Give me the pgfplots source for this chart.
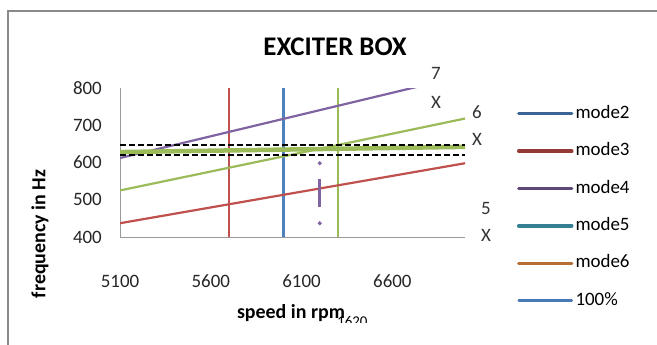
\documentclass[border=0pt]{standalone}
\usepackage{fontspec}
\setmainfont{Carlito}
\usepackage{pgfplots}
\pgfplotsset{compat=1.18}
\definecolor{cred}{HTML}{C0504D}
\definecolor{cgreen}{HTML}{9BBB59}
\definecolor{cpurple}{HTML}{8064A2}
\definecolor{cblue}{HTML}{4F81BD}
\definecolor{lmode2}{HTML}{3A6496}
\definecolor{lmode3}{HTML}{933936}
\definecolor{lmode4}{HTML}{5E4878}
\definecolor{lmode5}{HTML}{347F93}
\definecolor{lmode6}{HTML}{B86D32}
\definecolor{l100}{HTML}{4A7AB5}
\definecolor{framegray}{HTML}{8A8A8A}
\definecolor{axgray}{HTML}{9A9A9A}
\begin{document}
\begin{tikzpicture}[x=1bp,y=1bp]
\useasboundingbox (0,0) rectangle (657,344);
\fill[white] (0,0) rectangle (657,344);
\draw[line width=2bp, framegray] (8,-5) -- (8,333) -- (670,333);
\node[font=\fontsize{27}{27}\selectfont\bfseries, inner sep=0pt] at (335,297) {EXCITER BOX};
\node[font=\fontsize{20}{20}\selectfont\bfseries, rotate=90, inner sep=0pt] at (40,110) {frequency in Hz};
\node[font=\fontsize{20}{20}\selectfont\bfseries, inner sep=0pt] at (291,31) {speed in rpm};
\begin{scope}
\clip (330,22) rectangle (380,40);
\node[font=\fontsize{15}{15}\selectfont, anchor=north west, inner sep=0pt] at (337,28) {1620};
\end{scope}
\begin{scope}[font=\fontsize{19}{19}\selectfont, text=black!80]
\node at (436,271) {7};
\node at (436,242) {X};
\node at (477,232) {6};
\node at (477,205) {X};
\node at (486,136) {5};
\node at (486,109) {X};
\end{scope}
\begin{axis}[
  at={(120bp,107bp)}, anchor=south west,
  scale only axis, width=345bp, height=149bp,
  xmin=5100, xmax=7000, ymin=400, ymax=800,
  xtick={5100,5600,6100,6600}, ytick={400,500,600,700,800},
  /pgf/number format/1000 sep={},
  /pgf/number format/assume math mode=true,
  separate axis lines,
  axis x line*=bottom, axis y line*=left,
  x axis line style={-, draw=axgray, line width=1bp},
  y axis line style={-, draw=axgray, line width=1bp},
  major tick length=0pt,
  tick label style={font=\fontsize{19}{19}\selectfont, text=black!85},
  yticklabel style={inner sep=0pt, anchor=east, xshift=-18bp},
  xticklabel style={inner sep=0pt, anchor=north, yshift=-38bp},
  clip=true,
  legend cell align=left,
  legend style={draw=none, fill=none, at={(1.1507,0.2)}, anchor=west,
    inner sep=0pt, outer sep=0pt, row sep=22.4bp, column sep=2bp,
    font=\fontsize{19}{19}\selectfont,
    nodes={inner sep=0pt, text height=12bp, text depth=3bp}},
  legend image code/.code={\draw[#1] (0bp,0bp) -- (53bp,0bp);},
]
\addlegendimage{lmode2, line width=3.5bp, line cap=round}
\addlegendentry{mode2}
\addlegendimage{lmode3, line width=3.5bp, line cap=round}
\addlegendentry{mode3}
\addlegendimage{lmode4, line width=3.5bp, line cap=round}
\addlegendentry{mode4}
\addlegendimage{lmode5, line width=3.5bp, line cap=round}
\addlegendentry{mode5}
\addlegendimage{lmode6, line width=3.5bp, line cap=round}
\addlegendentry{mode6}
\addlegendimage{l100, line width=2.5bp, line cap=round}
\addlegendentry{100\%}
% vertical speed lines
\addplot[cred, line width=2.2bp, forget plot] coordinates {(5700,400) (5700,800)};
\addplot[cblue, line width=2.2bp, forget plot] coordinates {(6000,400) (6000,800)};
\addplot[cgreen, line width=2.2bp, forget plot] coordinates {(6300,400) (6300,800)};
% order lines
\addplot[cred, line width=2.2bp, forget plot] coordinates {(5100,437) (7000,598)};
\addplot[cgreen, line width=2.2bp, forget plot] coordinates {(5100,525) (7000,718)};
\addplot[cpurple, line width=2.2bp, forget plot] coordinates {(5100,612) (7000,834)};
% thick horizontal mode line
\addplot[cgreen, line width=4.5bp, forget plot] coordinates {(5100,628) (7000,642)};
% dashed band
\addplot[black, line width=2.2bp, dash pattern=on 6bp off 3bp, forget plot] coordinates {(5100,646) (7000,646)};
\addplot[black, line width=2.2bp, dash pattern=on 6bp off 3bp, forget plot] coordinates {(5100,621) (7000,621)};
% dotted purple vertical
\addplot[cpurple, line width=3bp, forget plot] coordinates {(6200,481) (6200,557)};
\addplot[only marks, mark=*, mark size=1.8bp, cpurple, forget plot] coordinates {(6200,598) (6200,437)};
\end{axis}
\end{tikzpicture}
\end{document}
